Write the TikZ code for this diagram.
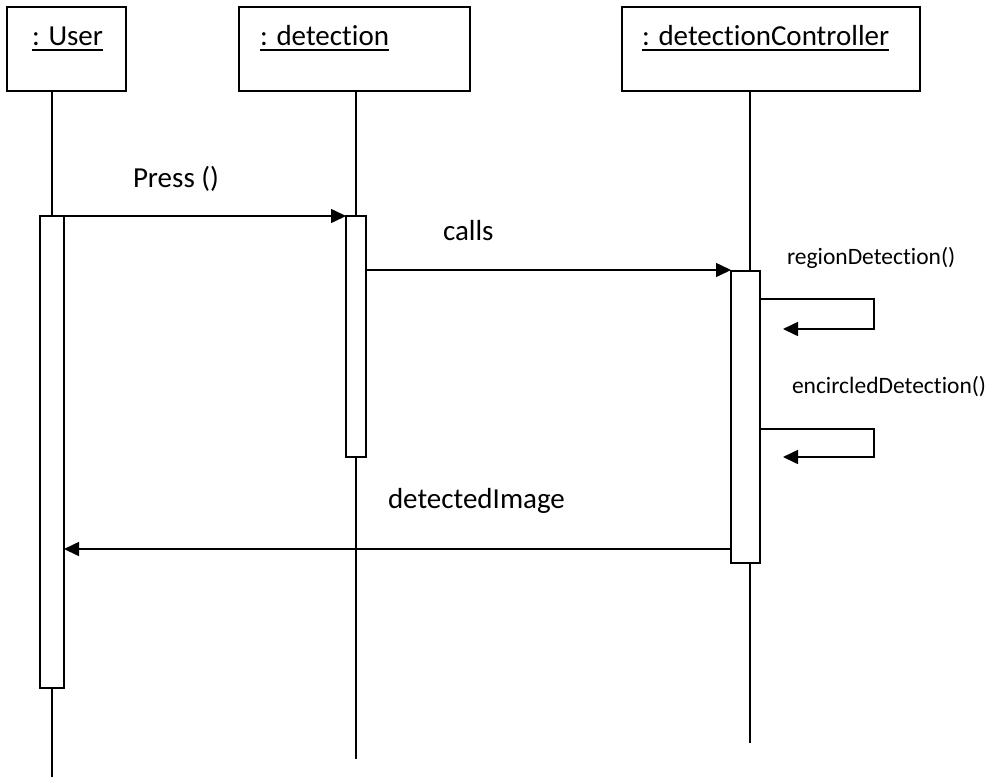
\documentclass[tikz,border=0pt]{standalone}
\usepackage{fontspec}
\setmainfont{Carlito}[Ligatures={NoCommon,NoContextual}]
\usetikzlibrary{arrows.meta}
\begin{document}
\begin{tikzpicture}[x=1pt,y=-1pt,
  every node/.style={inner sep=0pt, outer sep=0pt},
  objbox/.style={draw, line width=1.6pt, anchor=north west},
  actbar/.style={draw, fill=white, line width=1.6pt, anchor=north west},
  life/.style={line width=1.6pt},
  msg/.style={line width=1.6pt, -{Triangle[length=15pt,width=14pt]}},
  biglbl/.style={font=\fontsize{29}{34}\selectfont, anchor=base west},
  smalllbl/.style={font=\fontsize{23.5}{28}\selectfont, anchor=base west},
  uline/.style={line width=1.6pt}]

\useasboundingbox (0,0) rectangle (993,777);

% object boxes
\node[objbox, minimum width=119pt, minimum height=84pt] (user) at (7,7) {};
\node[objbox, minimum width=231pt, minimum height=84pt] (det) at (239,7) {};
\node[objbox, minimum width=298pt, minimum height=84pt] (ctrl) at (622,7) {};

% object names, underlined
\node[biglbl] (userlbl) at (32,45) {: User};
\node[biglbl] (detlbl) at (260,45) {: detection};
\node[biglbl] (ctrllbl) at (642,45) {: detectionController};
\foreach \n in {userlbl,detlbl,ctrllbl}
  \draw[uline] ([yshift=-5pt]\n.base west) -- ([yshift=-5pt]\n.base east);

% activation bars
\node[actbar, minimum width=24pt, minimum height=472pt] (ubar) at (40,216) {};
\node[actbar, minimum width=20pt, minimum height=241pt] (dbar) at (346,216) {};
\node[actbar, minimum width=29pt, minimum height=292pt] (cbar) at (731,271) {};

% lifelines
\coordinate (uend) at (52,777);
\coordinate (dend) at (356,759);
\coordinate (cend) at (750,743);
\draw[life] (user.south -| uend) -- (ubar.north -| uend);
\draw[life] (ubar.south -| uend) -- (uend);
\draw[life] (det.south -| dend) -- (dbar.north -| dend);
\draw[life] (dbar.south -| dend) -- (dend);
\draw[life] (ctrl.south -| cend) -- (cbar.north -| cend);
\draw[life] (cbar.south -| cend) -- (cend);

% messages
\draw[msg] (ubar.north east) -- (dbar.north west);
\node[biglbl] (presslbl) at (133,187) {Press ()};

\coordinate (callsy) at (0,270);
\draw[msg] (dbar.east |- callsy) -- (cbar.west |- callsy);
\node[biglbl] (callslbl) at (443,240) {calls};

\coordinate (s1a) at (874,299);
\coordinate (s1b) at (874,329);
\coordinate (s1end) at (783,329);
\draw[msg] (cbar.east |- s1a) -- (s1a) -- (s1b) -- (s1end);
\node[smalllbl] (reglbl) at (787,264) {regionDetection()};

\coordinate (s2a) at (874,429);
\coordinate (s2b) at (874,457);
\coordinate (s2end) at (783,457);
\draw[msg] (cbar.east |- s2a) -- (s2a) -- (s2b) -- (s2end);
\node[smalllbl] (enclbl) at (792,393) {encircledDetection()};

\coordinate (rety) at (0,549);
\draw[msg] (cbar.west |- rety) -- (ubar.east |- rety);
\node[biglbl] (retlbl) at (388,508) {detectedImage};

\end{tikzpicture}
\end{document}
